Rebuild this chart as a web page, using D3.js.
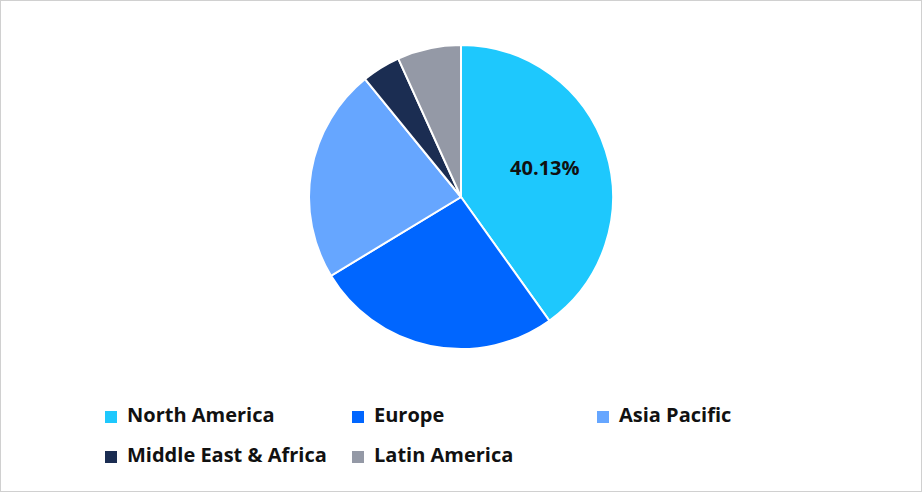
<!DOCTYPE html>
<html><head><meta charset="utf-8">
<script src="https://cdn.jsdelivr.net/npm/d3@7"></script>
<style>body{margin:0;background:#fff}</style></head>
<body><svg id="c" width="922" height="493"></svg>
<script>
const categories=["North America","Europe","Asia Pacific","Middle East & Africa","Latin America"];
const values=[40.13,26.2,22.8,4.1,6.77];
const colors=["#1ec8fd","#0066ff","#66a6ff","#1b2d52","#9499a6"];
const svg=d3.select("#c");
svg.append("rect").attr("x",0.5).attr("y",0.5).attr("width",921).attr("height",491).attr("fill","#fff").attr("stroke","#d0d0d0");
const pie=d3.pie().sort(null).value(d=>d)(values);
const arc=d3.arc().innerRadius(0).outerRadius(152);
const g=svg.append("g").attr("transform","translate(461,197)");
g.selectAll("path").data(pie).join("path").attr("d",arc).attr("fill",(d,i)=>colors[i]).attr("stroke","#fff").attr("stroke-width",2);
const la=d3.arc().innerRadius(88).outerRadius(88);
const c=la.centroid(pie[0]);
g.append("text").attr("x",c[0]).attr("y",c[1]-1).attr("text-anchor","middle").attr("dominant-baseline","middle")
 .attr("font-family","Open Sans, Liberation Sans, sans-serif").attr("font-weight","bold").attr("font-size",20).attr("fill","#111").text(values[0].toFixed(2)+"%");
const pos=[[105,417],[352,417],[597,417],[105,457],[352,457]];
const lg=svg.selectAll("g.l").data(categories).join("g").attr("class","l").attr("transform",(d,i)=>`translate(${pos[i][0]},${pos[i][1]})`);
lg.append("rect").attr("x",0).attr("y",-6).attr("width",12).attr("height",12).attr("fill",(d,i)=>colors[i]);
lg.append("text").attr("x",22).attr("y",0).attr("dominant-baseline","middle").attr("font-family","Open Sans, Liberation Sans, sans-serif").attr("font-weight","bold").attr("font-size",20).attr("fill","#111").text(d=>d);
</script></body></html>
